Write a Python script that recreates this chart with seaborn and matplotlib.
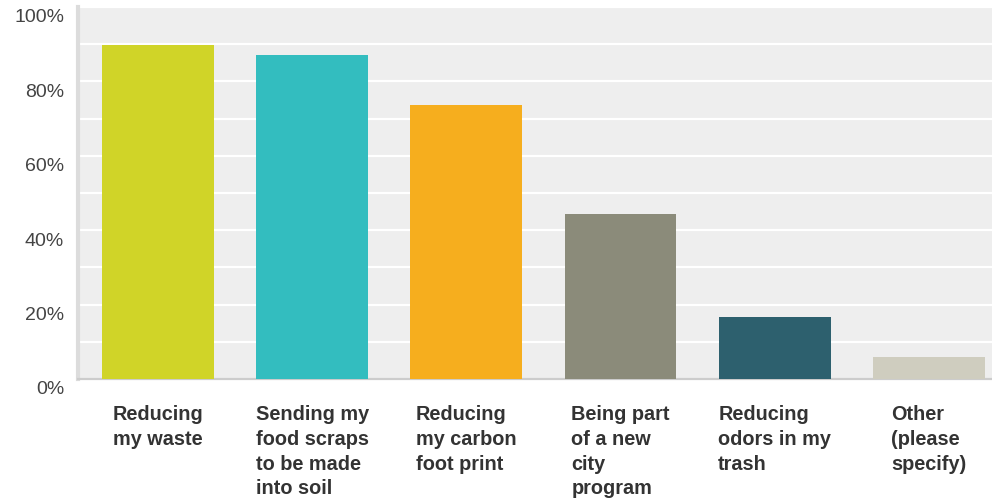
"""Bar chart: reasons for joining the food scraps program."""

import matplotlib.pyplot as plt
import matplotlib.transforms as mtransforms
import pandas as pd
import seaborn as sns

categories = [
    "Reducing\nmy waste",
    "Sending my\nfood scraps\nto be made\ninto soil",
    "Reducing\nmy carbon\nfoot print",
    "Being part\nof a new\ncity\nprogram",
    "Reducing\nodors in my\ntrash",
    "Other\n(please\nspecify)",
]
percent = [89.7, 87.0, 73.7, 44.3, 16.8, 5.8]
colors = ["#d0d428", "#33bdbf", "#f6ae1e", "#8b8b7a", "#2d606e", "#cfcdbf"]
y_ticks = [0, 20, 40, 60, 80, 100]

df = pd.DataFrame({"answer": categories, "pct": percent})

sns.set_style("white")
plt.rcParams["font.family"] = ["Liberation Sans", "DejaVu Sans"]

fig = plt.figure(figsize=(9.92, 5.01), dpi=100)
ax = fig.add_axes([78 / 992, 122 / 501, 1 - 78 / 992, 372 / 501])
ax.set_facecolor("#eeeeee")

sns.barplot(data=df, x="answer", y="pct", hue="answer", palette=colors,
            legend=False, width=0.726, saturation=1, linewidth=0,
            ax=ax, zorder=3)

# white grid every 10%
for v in range(10, 101, 10):
    ax.axhline(v, color="white", linewidth=1.6, zorder=1)

ax.set_ylim(0, 100)
ax.set_xlim(-0.52, 5.41)
ax.set_xlabel("")
ax.set_ylabel("")

ax.set_yticks(y_ticks)
ax.set_yticklabels([f"{t}%" for t in y_ticks], fontsize=14, color="#444444")
ax.tick_params(axis="y", length=0, pad=10)
offset = mtransforms.ScaledTranslation(0, -9 / 100, fig.dpi_scale_trans)
for lbl in ax.get_yticklabels():
    lbl.set_transform(lbl.get_transform() + offset)

ax.tick_params(axis="x", length=0, pad=19)
for lbl in ax.get_xticklabels():
    lbl.set_fontsize(14.3)
    lbl.set_fontweight("bold")
    lbl.set_color("#333333")
    lbl.set_multialignment("left")
    lbl.set_verticalalignment("top")
    lbl.set_linespacing(1.38)

for side in ["top", "right"]:
    ax.spines[side].set_visible(False)
ax.spines["left"].set_color("#dcdcdc")
ax.spines["left"].set_linewidth(3)
ax.spines["bottom"].set_color("#cccccc")
ax.spines["bottom"].set_linewidth(1.6)

fig.savefig("out.png", dpi=100)
